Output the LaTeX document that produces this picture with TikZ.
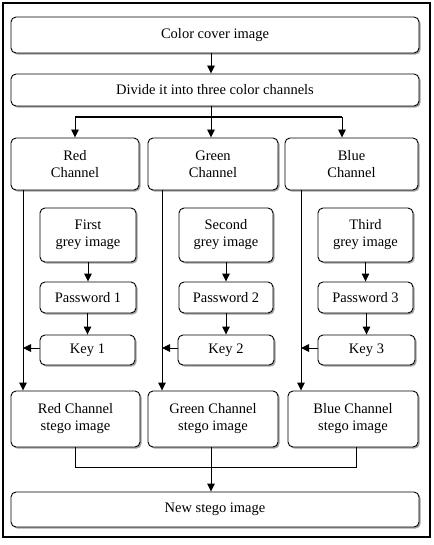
\documentclass[tikz,border=0pt]{standalone}
\usepackage{fontspec}
\setmainfont{Liberation Serif}
\usetikzlibrary{arrows.meta,shadows}
\begin{document}
\begin{tikzpicture}[x=1pt,y=-1pt,
  box/.style={draw=black,line width=0.9pt,rounded corners=5pt,fill=white,
    drop shadow={shadow xshift=1.6pt,shadow yshift=-1.6pt,fill=black!45,opacity=0.8},
    inner sep=0pt,align=center,font=\fontsize{14.5}{17}\selectfont},
  conn/.style={draw=black,line width=0.9pt},
  arr/.style={conn,-{Triangle[width=7.5pt,length=8pt]}}]
\useasboundingbox (0,0) rectangle (433,545);
\draw[line width=1.4pt] (3,3) rectangle (430,537);
% top
\node[box,minimum width=408pt,minimum height=36pt] (cover) at (215,35) {Color cover image};
\node[box,minimum width=408pt,minimum height=32pt] (divide) at (215,90) {Divide it into three color channels};
% channels
\node[box,minimum width=128pt,minimum height=52pt] (red) at (75,164) {Red\\Channel};
\node[box,minimum width=130pt,minimum height=52pt] (green) at (213,164) {Green\\Channel};
\node[box,minimum width=133pt,minimum height=52pt] (blue) at (351.5,164) {Blue\\Channel};
% grey images
\node[box,minimum width=96pt,minimum height=54pt] (g1) at (88,235) {First\\grey image};
\node[box,minimum width=94pt,minimum height=54pt] (g2) at (226,235) {Second\\grey image};
\node[box,minimum width=95pt,minimum height=54pt] (g3) at (365.5,235) {Third\\grey image};
% passwords
\node[box,minimum width=96pt,minimum height=31pt] (p1) at (88,297.5) {Password 1};
\node[box,minimum width=94pt,minimum height=31pt] (p2) at (226,297.5) {Password 2};
\node[box,minimum width=95pt,minimum height=31pt] (p3) at (365.5,297.5) {Password 3};
% keys
\node[box,minimum width=95pt,minimum height=30pt] (k1) at (87.5,350) {Key 1};
\node[box,minimum width=96pt,minimum height=30pt] (k2) at (226,350) {Key 2};
\node[box,minimum width=97pt,minimum height=30pt] (k3) at (366.5,350) {Key 3};
% stego
\node[box,minimum width=129pt,minimum height=56pt] (s1) at (75.5,419) {Red Channel\\stego image};
\node[box,minimum width=130pt,minimum height=56pt] (s2) at (213,419) {Green Channel\\stego image};
\node[box,minimum width=130pt,minimum height=56pt] (s3) at (353,419) {Blue Channel\\stego image};
% new
\node[box,minimum width=408pt,minimum height=35pt] (new) at (215,509.5) {New stego image};
% coordinates
\coordinate (dsplit) at (211,117);
\coordinate (jr) at (75,117);
\coordinate (jb) at (342,117);
\coordinate (lr) at (23,190);
\coordinate (lg) at (162,190);
\coordinate (lb) at (301,190);
\coordinate (m1) at (75,467);
\coordinate (m2) at (211,467);
\coordinate (m3) at (356,467);
% connectors
\draw[arr] (cover.south -| dsplit) -- (divide.north -| dsplit);
\draw[conn] (divide.south -| dsplit) -- (dsplit);
\draw[conn,line width=1.3pt] (jr) -- (jb);
\draw[arr] (jr) -- (jr |- red.north);
\draw[arr] (dsplit) -- (dsplit |- green.north);
\draw[arr] (jb) -- (jb |- blue.north);
\draw[arr] (g1) -- (p1);
\draw[arr] (g2) -- (p2);
\draw[arr] (g3) -- (p3);
\draw[arr] (p1.south -| k1) -- (k1);
\draw[arr] (p2.south -| k2) -- (k2);
\draw[arr] (p3.south -| k3) -- (k3);
\draw[arr] (lr) -- (lr |- s1.north);
\draw[arr] (lg) -- (lg |- s2.north);
\draw[arr] (lb) -- (lb |- s3.north);
\draw[arr] ([yshift=2pt]k1.west) -- ([yshift=2pt]k1.west -| lr);
\draw[arr] ([yshift=2pt]k2.west) -- ([yshift=2pt]k2.west -| lg);
\draw[arr] ([yshift=2pt]k3.west) -- ([yshift=2pt]k3.west -| lb);
\draw[conn] (s1.south -| m1) -- (m1) -- (m3) -- (s3.south -| m3);
\draw[arr] (s2.south -| m2) -- (new.north -| m2);
\end{tikzpicture}
\end{document}
